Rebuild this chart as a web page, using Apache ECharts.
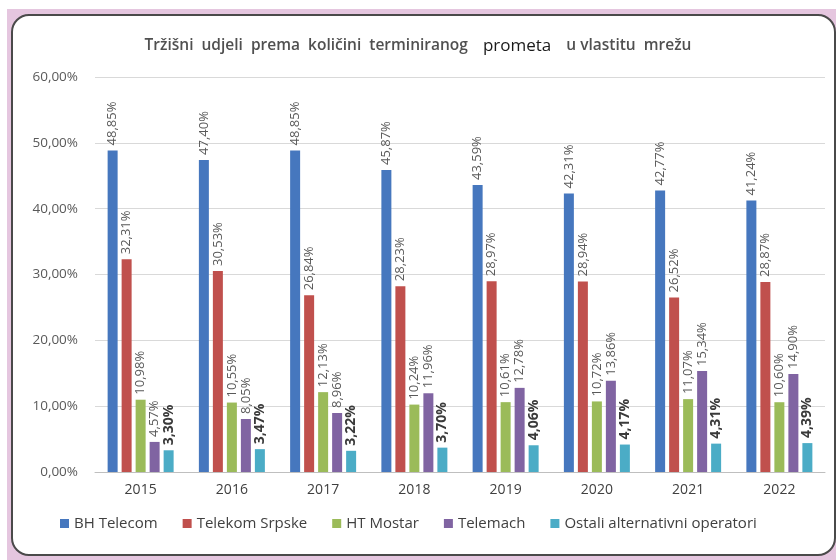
<!DOCTYPE html>
<html>
<head>
<meta charset="utf-8">
<script src="https://cdn.jsdelivr.net/npm/echarts@6/dist/echarts.min.js"></script>
<style>
  html, body { margin: 0; padding: 0; background: #fff; }
  .pink { position: absolute; left: 7px; top: 9px; width: 829px; height: 551px; background: #E5C6DF; }
  .card { position: absolute; left: 11px; top: 14px; width: 821px; height: 538px; background: #fff;
          border: 2px solid #4a4a4a; border-radius: 18px; }
  #chart { position: absolute; left: 0; top: 0; width: 836px; height: 560px; }
</style>
</head>
<body>
<div class="pink"></div>
<div class="card"></div>
<div id="chart"></div>
<script>
  // podaci
  var years = ['2015', '2016', '2017', '2018', '2019', '2020', '2021', '2022'];
  var bhTelecom = [48.85, 47.40, 48.85, 45.87, 43.59, 42.31, 42.77, 41.24];
  var telekomSrpske = [32.31, 30.53, 26.84, 28.23, 28.97, 28.94, 26.52, 28.87];
  var htMostar = [10.98, 10.55, 12.13, 10.24, 10.61, 10.72, 11.07, 10.60];
  var telemach = [4.57, 8.05, 8.96, 11.96, 12.78, 13.86, 15.34, 14.90];
  var ostali = [3.30, 3.47, 3.22, 3.70, 4.06, 4.17, 4.31, 4.39];
  var seriesNames = ['BH Telecom', 'Telekom Srpske', 'HT Mostar', 'Telemach', 'Ostali alternativni operatori'];
  var colors = ['#4677BE', '#C0504D', '#9BBB59', '#8064A2', '#4BACC6'];

  var font = '"Open Sans", "Noto Sans", sans-serif';
  function pct(v) { return v.toFixed(2).replace('.', ',') + '%'; }

  function bar(i, data, bold) {
    return {
      name: seriesNames[i],
      type: 'bar',
      data: data,
      barWidth: 10,
      barGap: '40%',
      barCategoryGap: '27%',
      itemStyle: { color: colors[i] },
      label: {
        show: true,
        position: 'top',
        rotate: 90,
        align: 'left',
        verticalAlign: 'middle',
        distance: 5,
        fontFamily: font,
        fontSize: bold ? 14 : 13,
        fontWeight: bold ? 'bold' : 'normal',
        color: bold ? '#3a3a3a' : '#595959',
        formatter: function (p) { return pct(p.value); }
      }
    };
  }

  var myChart = echarts.init(document.getElementById('chart'));
  var option = {
    backgroundColor: 'transparent',
    animation: false,
    color: colors,
    title: {
      text: '{a|Tržišni  udjeli  prema  količini  terminiranog}   {b|prometa}   {a|u vlastitu  mrežu}',
      left: 'center',
      top: 32,
      textStyle: {
        rich: {
          a: { fontFamily: font, fontSize: 15.5, fontWeight: 600, color: '#505050' },
          b: { fontFamily: font, fontSize: 17, fontWeight: 'normal', color: '#1a1a1a' }
        }
      }
    },
    grid: { left: 95, right: 11, top: 77, bottom: 88 },
    legend: {
      left: 55,
      top: 511,
      itemWidth: 9,
      itemHeight: 9,
      itemGap: 25,
      icon: 'rect',
      textStyle: { fontFamily: font, fontSize: 15, color: '#404040' },
      data: seriesNames
    },
    xAxis: {
      type: 'category',
      data: years,
      axisTick: { show: false },
      axisLine: { lineStyle: { color: '#BFBFBF' } },
      axisLabel: { fontFamily: font, fontSize: 14, color: '#404040', margin: 11 }
    },
    yAxis: {
      type: 'value',
      min: 0,
      max: 60,
      interval: 10,
      axisLine: { show: false },
      axisTick: { show: false },
      splitLine: { lineStyle: { color: '#D9D9D9' } },
      axisLabel: {
        fontFamily: font, fontSize: 13.5, color: '#595959', margin: 17,
        formatter: function (v) { return v.toFixed(2).replace('.', ',') + '%'; }
      }
    },
    series: [
      bar(0, bhTelecom),
      bar(1, telekomSrpske),
      bar(2, htMostar),
      bar(3, telemach),
      bar(4, ostali, true)
    ]
  };
  myChart.setOption(option);
</script>
</body>
</html>
